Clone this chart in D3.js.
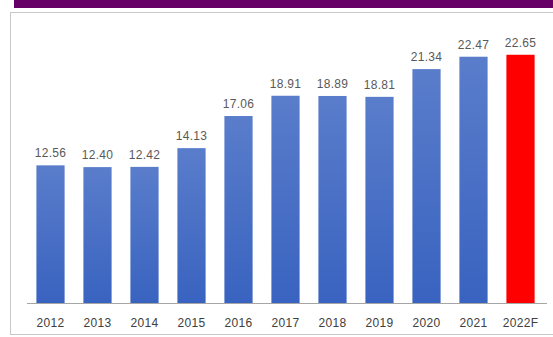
<!DOCTYPE html>
<html>
<head>
<meta charset="utf-8">
<script src="https://cdn.jsdelivr.net/npm/d3@7"></script>
<style>
  html, body { margin: 0; padding: 0; background: #fff; }
  svg { display: block; }
</style>
</head>
<body>
<svg id="chart" width="553" height="337"></svg>
<script>
// Annual values, 2012 through the 2022 forecast
const years = ["2012","2013","2014","2015","2016","2017","2018","2019","2020","2021","2022F"];
const values = [12.56, 12.40, 12.42, 14.13, 17.06, 18.91, 18.89, 18.81, 21.34, 22.47, 22.65];
const labels = ["12.56","12.40","12.42","14.13","17.06","18.91","18.89","18.81","21.34","22.47","22.65"];
const forecastYear = "2022F";

const W = 553, H = 337;
const svg = d3.select("#chart");

// Header band and panel frame
svg.append("rect").attr("x", 14).attr("y", 0).attr("width", W - 14).attr("height", 8).attr("fill", "#660066");
svg.append("rect").attr("x", 10.5).attr("y", 12.5).attr("width", W - 10).attr("height", 322)
  .attr("fill", "#fff").attr("stroke", "#c8c8c8").attr("stroke-width", 1);

const defs = svg.append("defs");
const grad = defs.append("linearGradient").attr("id", "blueBar")
  .attr("x1", 0).attr("y1", 0).attr("x2", 0).attr("y2", 1);
grad.append("stop").attr("offset", "0%").attr("stop-color", "#5a7dcb");
grad.append("stop").attr("offset", "100%").attr("stop-color", "#3963c0");

const x = d3.scaleBand().domain(years).range([27, 544]).paddingInner(0.4).paddingOuter(0.2);
const y = d3.scaleLinear().domain([0, 25]).range([303, 303 - 25 * 10.96]);

// Bars
svg.append("g").selectAll("rect").data(years).join("rect")
  .attr("x", d => x(d))
  .attr("y", (d, i) => y(values[i]))
  .attr("width", x.bandwidth())
  .attr("height", (d, i) => y(0) - y(values[i]))
  .attr("fill", d => d === forecastYear ? "#ff0000" : "url(#blueBar)");

// Value labels
svg.append("g").selectAll("text").data(years).join("text")
  .attr("x", d => x(d) + x.bandwidth() / 2)
  .attr("y", (d, i) => y(values[i]) - 8)
  .attr("text-anchor", "middle")
  .attr("font-family", "Liberation Sans, Arial, sans-serif")
  .attr("font-size", 12)
  .attr("letter-spacing", 0.3)
  .attr("fill", "#595959")
  .text((d, i) => labels[i]);

// Category axis
const axis = svg.append("g").attr("transform", `translate(0,${y(0)})`)
  .call(d3.axisBottom(x).tickSize(0).tickPadding(15));
axis.select(".domain").attr("stroke", "#a6a6a6").attr("d", "M27,0.5H547");
axis.selectAll("text")
  .attr("font-family", "Liberation Sans, Arial, sans-serif")
  .attr("font-size", 12)
  .attr("letter-spacing", 0.3)
  .attr("fill", "#404040");
</script>
</body>
</html>
